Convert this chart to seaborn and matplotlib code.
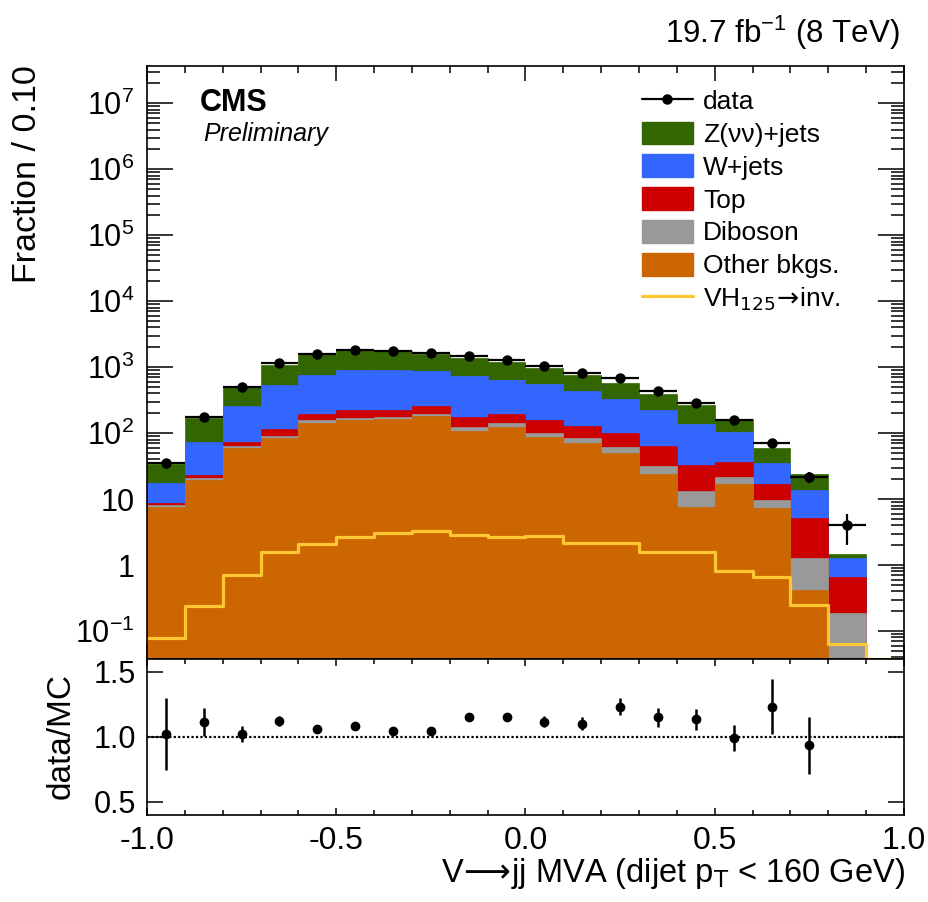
"""Stacked V->jj MVA distribution with data/MC ratio panel (CMS style)."""

import matplotlib

matplotlib.use("Agg")
import matplotlib.pyplot as plt  # noqa: E402
import numpy as np  # noqa: E402
import seaborn as sns  # noqa: E402
from matplotlib.lines import Line2D  # noqa: E402
from matplotlib.patches import Patch  # noqa: E402
from matplotlib.ticker import FixedLocator, FuncFormatter, NullLocator  # noqa: E402

# bin edges of the MVA output
bin_edges = [-1.0, -0.9, -0.8, -0.7, -0.6, -0.5, -0.4, -0.3, -0.2, -0.1, 0.0,
             0.1, 0.2, 0.3, 0.4, 0.5, 0.6, 0.7, 0.8, 0.9, 1.0]

# background components, bottom of the stack first
other_bkgs = [7.64, 19.4, 59.2, 84, 144, 157, 163, 181, 107, 123, 87, 72, 50, 24.4,
              7.64, 16.7, 7.46, 0.42, 0.03, 0]
diboson = [0.55, 1.4, 3.6, 6, 12, 14, 12, 16, 16, 19, 15, 13, 11, 7.6, 5.76, 4.6,
           2.16, 0.88, 0.156, 0]
top = [0.48, 2.0, 9.5, 27, 36, 50, 52, 57, 54, 55, 54, 45, 41, 31.5, 19.7, 15.5,
       7.2, 3.96, 0.476, 0]
w_jets = [8.73, 51.2, 189, 413, 577, 695, 689, 631, 548, 449, 392, 299, 226, 157.5,
          106, 67, 18.8, 8.54, 0.608, 0]
z_jets = [16.1, 97, 238, 561, 812, 901, 822, 718, 649, 549, 421, 330, 254, 175, 124,
          59, 23.6, 10.1, 0.21, 0]

signal = [0.0775, 0.243, 0.70, 1.56, 2.10, 2.71, 3.04, 3.30, 2.87, 2.71, 2.80, 2.17,
          2.17, 1.56, 1.60, 0.826, 0.669, 0.252, 0.064, 0.038]

data = [35, 175, 505, 1170, 1600, 1840, 1755, 1620, 1495, 1300, 1054, 813, 693, 440,
        289, 157, 72, 22, 4.0]
data_err = [6, 13, 22, 34, 40, 43, 42, 40, 39, 36, 32, 29, 26, 21, 17, 12.5, 8.5, 4.2, 2.0]

ratio = [1.023, 1.116, 1.023, 1.124, 1.064, 1.088, 1.046, 1.044, 1.155, 1.157, 1.118,
         1.10, 1.234, 1.15, 1.137, 0.99, 1.234, 0.936]
ratio_err = [0.28, 0.11, 0.06, 0.04, 0.03, 0.03, 0.025, 0.025, 0.03, 0.03, 0.045,
             0.05, 0.065, 0.07, 0.08, 0.1, 0.21, 0.22]

labels = ["Z(\u03bd\u03bd)+jets", "W+jets", "Top", "Diboson", "Other bkgs."]
colors = ["#336600", "#3366FF", "#CC0000", "#999999", "#CC6600"]
SIGNAL_COLOR = "#FFC633"

Y_MIN, Y_MAX = 0.0377, 3.67e7

sns.set_style("ticks")
plt.rcParams["font.family"] = ["Liberation Sans", "DejaVu Sans"]
plt.rcParams["mathtext.fontset"] = "custom"
plt.rcParams["mathtext.rm"] = "Liberation Sans"
plt.rcParams["mathtext.it"] = "Liberation Sans:italic"
plt.rcParams["axes.unicode_minus"] = False
for key in ("text.color", "axes.labelcolor", "axes.edgecolor", "xtick.color", "ytick.color"):
    plt.rcParams[key] = "black"

edges = np.array(bin_edges)
centers = 0.5 * (edges[:-1] + edges[1:])
half_width = 0.5 * np.diff(edges)

fig = plt.figure(figsize=(9.29, 9.02), dpi=100)
ax = fig.add_axes([0.1582, 0.2694, 0.8149, 0.6574])
ax_r = fig.add_axes([0.1582, 0.0965, 0.8149, 0.1729], sharex=ax)

# stacked backgrounds: draw cumulative sums from the top layer down
stack = [np.array(v, dtype=float) for v in (z_jets, w_jets, top, diboson, other_bkgs)]
for i, color in enumerate(colors):
    cumulative = np.sum(stack[i:], axis=0)
    sns.histplot(x=centers, weights=cumulative, bins=bin_edges, ax=ax, color=color,
                 alpha=1.0, edgecolor=color, linewidth=0.5)

sns.histplot(x=centers, weights=signal, bins=bin_edges, ax=ax, element="step", fill=False,
             color=SIGNAL_COLOR, linewidth=2.3)

n_data = len(data)
ax.errorbar(centers[:n_data], data, xerr=half_width[:n_data], yerr=data_err, fmt="o",
            color="black", ms=6.5, elinewidth=1.6, capsize=0, zorder=5)

ax.set_yscale("log")
ax.set_xlim(-1.0, 1.0)
ax.set_ylim(Y_MIN, Y_MAX)
ax.set_xlabel("")
ax.set_ylabel("")


def log_label(value, _pos):
    exponent = int(round(np.log10(value)))
    if exponent == 0:
        return "1"
    if exponent == 1:
        return "10"
    return "$10^{%d}$" % exponent


# only decades inside the visible range, so no hidden labels stick out
decades = [10.0 ** e for e in range(-2, 8)]
major_y = [d for d in decades if Y_MIN <= d <= Y_MAX]
minor_y = [d * s for d in decades for s in range(2, 10) if Y_MIN <= d * s <= Y_MAX]
ax.yaxis.set_major_locator(FixedLocator(major_y))
ax.yaxis.set_minor_locator(FixedLocator(minor_y))
ax.yaxis.set_major_formatter(FuncFormatter(log_label))
ax.yaxis.set_minor_formatter(FuncFormatter(lambda v, _p: ""))
ax.xaxis.set_major_locator(FixedLocator([-1.0, -0.5, 0.0, 0.5, 1.0]))
ax.xaxis.set_minor_locator(FixedLocator(centers - half_width))
ax.tick_params(axis="both", which="both", direction="in", top=True, right=True,
               width=1.1, labelsize=22, pad=9)
ax.tick_params(axis="y", which="major", length=18.5)
ax.tick_params(axis="y", which="minor", length=9.5)
ax.tick_params(axis="x", which="major", length=10.5)
ax.tick_params(axis="x", which="minor", length=5)
ax.tick_params(axis="x", labelbottom=False)
for spine in ax.spines.values():
    spine.set_linewidth(1.2)

# ratio panel
ax_r.errorbar(centers[:len(ratio)], ratio, yerr=ratio_err, fmt="o", color="black",
              ms=6, elinewidth=1.8, capsize=0, zorder=5)
ax_r.axhline(1.0, color="black", linestyle=(0, (1, 1)), linewidth=1.6)
ax_r.set_ylim(0.4, 1.6)
ax_r.set_xlim(-1.0, 1.0)
ax_r.yaxis.set_major_locator(FixedLocator([0.5, 1.0, 1.5]))
ax_r.yaxis.set_minor_locator(NullLocator())
ax_r.yaxis.set_major_formatter(FuncFormatter(lambda v, _p: "%.1f" % v))
ax_r.xaxis.set_major_formatter(FuncFormatter(lambda v, _p: "%.1f" % v))
ax_r.tick_params(axis="both", which="both", direction="in", top=True, right=True,
                 width=1.1, labelsize=22, pad=8)
ax_r.tick_params(axis="x", labelsize=23)
ax_r.tick_params(axis="y", which="major", length=11.5)
ax_r.tick_params(axis="x", which="major", length=5)
ax_r.tick_params(axis="x", which="minor", length=3.5)
for spine in ax_r.spines.values():
    spine.set_linewidth(1.2)

# texts
fig.text(0.9688, 0.952, "19.7 fb$^{-1}$ (8 TeV)", ha="right", va="baseline", fontsize=22.5)
fig.text(0.2153, 0.877, "CMS", ha="left", va="baseline", fontsize=22, fontweight="bold")
fig.text(0.2185, 0.8437, "Preliminary", ha="left", va="baseline", fontsize=18,
         fontstyle="italic")
fig.text(0.030, 0.928, "Fraction / 0.10", rotation=90, ha="center", va="top", fontsize=24.5)
fig.text(0.0657, 1 - 736 / 902, "data/MC", rotation=90, ha="center", va="center",
         fontsize=24)
fig.text(0.974, 0.0222,
         "V$\\!\\longrightarrow\\!$jj MVA (dijet p$_{\\mathrm{T}}$ < 160 GeV)",
         ha="right", va="baseline", fontsize=23.5, math_fontfamily="dejavusans")

handles = [Line2D([], [], color="black", marker="o", ms=6.5, linewidth=1.6)]
handles += [Patch(facecolor=c, edgecolor=c) for c in colors]
handles += [Line2D([], [], color=SIGNAL_COLOR, linewidth=2.3)]
legend_labels = ["data"] + labels + ["VH$_{125}$$\\!\\rightarrow\\!$inv."]
leg = fig.legend(handles, legend_labels, loc="upper left", bbox_to_anchor=(0.691, 0.9017),
                 frameon=False, fontsize=19, borderpad=0, borderaxespad=0,
                 handlelength=1.93, handleheight=0.95, handletextpad=0.38,
                 labelspacing=0.28)
leg.get_texts()[-1].set_math_fontfamily("dejavusans")

fig.savefig("out.png", dpi=100)
plt.close(fig)
